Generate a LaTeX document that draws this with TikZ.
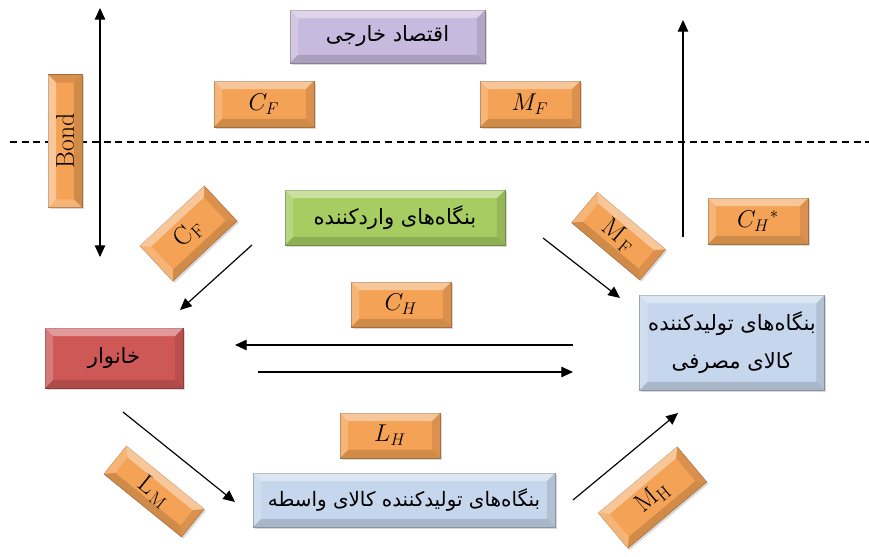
\documentclass[tikz,border=0pt]{standalone}
\usepackage{fontspec}
\newfontfamily\fa[Script=Arabic]{DejaVu Sans}
\TeXXeTstate=1
\usetikzlibrary{calc,shadows,arrows.meta}

\newlength\pxu \setlength\pxu{0.03cm}
\definecolor{orng}{RGB}{244,162,86}
\definecolor{purp}{RGB}{200,186,222}
\definecolor{grn}{RGB}{166,204,98}
\definecolor{hred}{RGB}{206,88,86}
\definecolor{lblue}{RGB}{198,214,236}

\tikzset{
  bevelbox/.style={rectangle, inner sep=0pt, fill=#1, draw=#1!70!black, line width=.3pt,
    drop shadow={opacity=.3, shadow xshift=1.5pt, shadow yshift=-1.5pt}},
  sym/.style={bevelbox=orng, minimum width=100\pxu, minimum height=46\pxu,
    font=\fontsize{22}{24}\selectfont},
  persian/.style={font=\fontsize{18}{32}\selectfont\fa},
  arr/.style={-{Triangle[length=10pt,width=9pt]}, line width=1pt},
}

% light and dark rims round a box
\newcommand\bevel[2][7pt]{%
  \coordinate (#2-nw) at ($($(#2.north west)!#1!(#2.south west)$)!#1!($(#2.north east)!#1!(#2.south east)$)$);
  \coordinate (#2-ne) at ($($(#2.north east)!#1!(#2.south east)$)!#1!($(#2.north west)!#1!(#2.south west)$)$);
  \coordinate (#2-sw) at ($($(#2.south west)!#1!(#2.north west)$)!#1!($(#2.south east)!#1!(#2.north east)$)$);
  \coordinate (#2-se) at ($($(#2.south east)!#1!(#2.north east)$)!#1!($(#2.south west)!#1!(#2.north west)$)$);
  \fill[white,opacity=.4] (#2.north west) -- (#2.north east) -- (#2-ne) -- (#2-nw) -- cycle;
  \fill[white,opacity=.2] (#2.north west) -- (#2-nw) -- (#2-sw) -- (#2.south west) -- cycle;
  \fill[black,opacity=.1] (#2.north east) -- (#2.south east) -- (#2-se) -- (#2-ne) -- cycle;
  \fill[black,opacity=.14] (#2.south west) -- (#2-sw) -- (#2-se) -- (#2.south east) -- cycle;
}

\begin{document}
\begin{tikzpicture}[x=0.03cm, y=0.03cm]
\useasboundingbox (0,0) rectangle (869,556);

% border between home and foreign economy
\coordinate (dl) at (10,414);
\coordinate (dr) at (869,414);
\draw[line width=1pt, dash pattern=on 6pt off 4pt] (dl) -- (dr);

% boxes
\node[bevelbox=purp, persian, minimum width=195\pxu, minimum height=53\pxu] (ext) at (387.5,519.5) {\beginR اقتصاد خارجی\endR};
\node[sym] (cf1) at (264,452) {$C_F$};
\node[sym] (mf1) at (530,452) {$M_F$};
\node[bevelbox=orng, rotate=90, minimum width=133\pxu, minimum height=34\pxu,
  font=\fontsize{22}{24}\selectfont] (bond) at (65,415) {Bond};
\node[bevelbox=grn, persian, minimum width=220\pxu, minimum height=55\pxu] (imp) at (395,338.5) {\beginR بنگاه‌های واردکننده\endR};
\node[sym, rotate=43, minimum width=88\pxu, minimum height=48\pxu] (cf2) at (188.5,322.5) {$\mathrm{C}_\mathrm{F}$};
\node[sym, rotate=-40, minimum width=89\pxu, minimum height=40\pxu] (mf2) at (618.5,320) {$\mathrm{M}_{\mkern3mu\mathrm{F}}$};
\node[sym] (chs) at (758,335) {$C_H{}^*$};
\node[sym, minimum height=45\pxu] (ch) at (401,251.5) {$C_H$};
\node[bevelbox=hred, persian, minimum width=138\pxu, minimum height=60\pxu] (hh) at (114,198) {\beginR خانوار\endR};
\node[bevelbox=lblue, persian, align=center, minimum width=185\pxu, minimum height=95\pxu] (cons) at (732,213.5)
  {\beginR بنگاه‌های تولیدکننده\endR\\\beginR کالای مصرفی\endR};
\node[sym, minimum height=45\pxu] (lh) at (390,120.5) {$L_H$};
\node[sym, rotate=-39, minimum width=100\pxu, minimum height=36\pxu] (lm) at (154,64.5) {$\mathrm{L}_{\mkern3mu\mathrm{M}}$};
\node[bevelbox=lblue, persian, font=\fontsize{17}{20}\selectfont\fa, minimum width=302\pxu, minimum height=54\pxu] (inter) at (404,56) {\beginR بنگاه‌های تولیدکننده کالای واسطه\endR};
\node[sym, rotate=40, minimum width=103\pxu, minimum height=46\pxu] (mh) at (652.5,58.5) {$\mathrm{M}_\mathrm{H}$};

\foreach \n in {ext,cf1,mf1,bond,imp,cf2,mf2,chs,ch,hh,cons,lh,lm,inter,mh} {\bevel{\n}}

% arrow ends
\coordinate (bondtop) at (100,548);
\coordinate (bondbot) at (100,299);
\coordinate (upfrom) at (683,319);
\coordinate (upto) at (683,536);
\coordinate (imphh1) at (252,311);
\coordinate (imphh2) at (180,246);
\coordinate (impcons1) at (543,318);
\coordinate (impcons2) at (620,258);
\coordinate (left1) at (573,211);
\coordinate (left2) at (235,211);
\coordinate (right1) at (258,184);
\coordinate (right2) at (573,184);
\coordinate (hhint1) at (123,144);
\coordinate (hhint2) at (235,54);
\coordinate (intcons1) at (573,56);
\coordinate (intcons2) at (678,143);

\draw[line width=1pt, {Triangle[length=10pt,width=9pt]}-{Triangle[length=10pt,width=9pt]}] (bondtop) -- (bondbot);
\draw[arr] (upfrom) -- (upto);
\draw[arr] (imphh1) -- (imphh2);
\draw[arr] (impcons1) -- (impcons2);
\draw[arr] (left1) -- (left2);
\draw[arr] (right1) -- (right2);
\draw[arr] (hhint1) -- (hhint2);
\draw[arr] (intcons1) -- (intcons2);

\end{tikzpicture}
\end{document}
